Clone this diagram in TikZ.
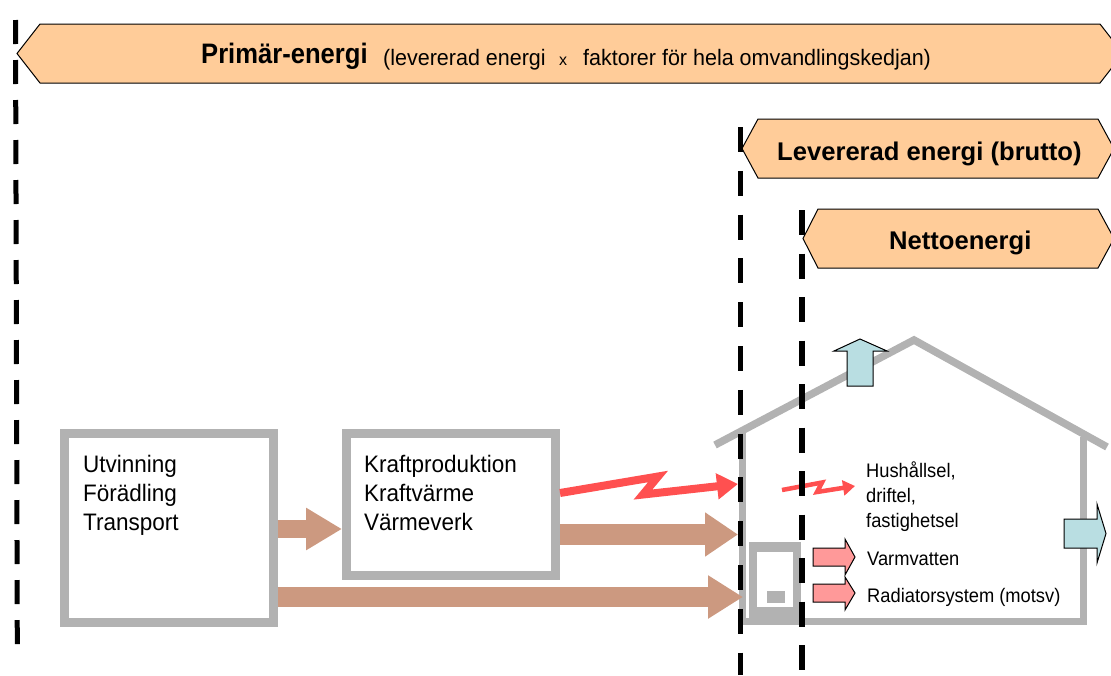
\documentclass[tikz,border=0pt]{standalone}
\usepackage{fontspec}
\setmainfont{Liberation Sans}
\usetikzlibrary{arrows.meta}

\definecolor{peach}{HTML}{FFCC99}
\definecolor{wallgray}{HTML}{B2B2B2}
\definecolor{flowbrown}{RGB}{204,153,128}
\definecolor{elred}{HTML}{FF5050}
\definecolor{hotpink}{HTML}{FF9999}
\definecolor{lossblue}{RGB}{185,222,226}

% slightly taller lettering
\newcommand\talltext[2][1.06]{\scalebox{1}[#1]{#2}}

\begin{document}
\begin{tikzpicture}[x=1pt,y=-1pt,
  banner/.style={draw=black,line width=1pt,fill=peach,line join=miter},
  headtext/.style={font=\fontsize{25.6}{30}\selectfont\bfseries,anchor=base west,inner sep=0},
  subtext/.style={font=\fontsize{21.5}{26}\selectfont,anchor=base west,inner sep=0},
  graybox/.style={draw=wallgray,line width=9pt,fill=white,inner sep=0},
  boxtext/.style={font=\fontsize{22.5}{27}\selectfont,anchor=base west,inner sep=0},
  smalltext/.style={font=\fontsize{18.3}{22}\selectfont,anchor=base west,inner sep=0},
  housewall/.style={draw=wallgray,line width=7.5pt,line join=miter},
  flow/.style={draw=flowbrown,line width=#1},
  bolt/.style={draw=elred,line width=#1,line join=miter},
  blockarrow/.style={draw=black,line width=1pt,fill=#1,line join=miter},
  divider/.style={draw=black,line width=5.5pt}
]
\useasboundingbox (0,0) rectangle (1111,675);
\clip (0,0) rectangle (1111,675);

% energy level banners
\draw[banner] (17,53.5) -- (40,24) -- (1100,24) -- (1123,53.5) -- (1100,83) -- (40,83) -- cycle;
\draw[banner] (742,148.5) -- (758,119) -- (1098,119) -- (1114,148.5) -- (1098,178) -- (758,178) -- cycle;
\draw[banner] (803,238.5) -- (818,209) -- (1098,209) -- (1114,238.5) -- (1098,268) -- (818,268) -- cycle;

\node[headtext] (prim) at (201,63) {\talltext[1.1]{Primär-energi}};
\node[subtext] (primA) at (383,65.5) {\talltext[1.04]{(levererad energi}};
\node[font=\fontsize{16}{18}\selectfont,anchor=base west,inner sep=0] (primX) at (559,65.5) {x};
\node[subtext] (primB) at (583,65.5) {\talltext[1.04]{faktorer för hela omvandlingskedjan)}};
\node[headtext] (brutto) at (777,160) {Levererad energi (brutto)};
\node[headtext] (netto) at (889,249) {Nettoenergi};

% supply chain boxes
\node[graybox,minimum width=208.5pt,minimum height=189pt] (box1) at (168.75,528) {};
\node[graybox,minimum width=209pt,minimum height=142pt] (box2) at (451,504.5) {};

\node[boxtext] (u1) at (83,472) {\talltext{Utvinning}};
\node[boxtext] (u2) at (83,501) {\talltext{Förädling}};
\node[boxtext] (u3) at (83,530) {\talltext{Transport}};
\node[boxtext] (k1) at (364,472) {\talltext{Kraftproduktion}};
\node[boxtext] (k2) at (364,501) {\talltext{Kraftvärme}};
\node[boxtext] (k3) at (364,530) {\talltext{Värmeverk}};

% house
\draw[housewall] (715,445) -- (914,340) -- (1107,447);
\draw[housewall] (742.5,433) -- (742.5,621.5) -- (1083.5,621.5) -- (1083.5,437);

% boiler
\fill[wallgray] (749,542) rectangle (801,622);
\fill[white] (757,552) rectangle (793,607);
\fill[wallgray] (767,591) rectangle (785,603);

% entry points at the wall
\coordinate (yA) at (0,529);
\coordinate (yB) at (0,534.5);
\coordinate (yC) at (0,597);
\coordinate (yL) at (0,493);
\coordinate (inB) at (738,534.5);
\coordinate (inC) at (743,597);
\coordinate (inL) at (738,484);

% fuel and heat flows
\draw[flow=18pt,-{Triangle[length=36pt,width=40pt]}] (box1.east |- yA) -- (box2.west |- yA);
\draw[flow=21pt,-{Triangle[length=33pt,width=42pt]}] (box2.east |- yB) -- (inB);
\draw[flow=20pt,-{Triangle[length=35pt,width=41pt]}] (box1.east |- yC) -- (inC);

% electricity
\draw[bolt=8pt,-{Triangle[length=21pt,width=25pt]}] (box2.east |- yL) -- (658,476.5) -- (643,494.5) -- (inL);
\coordinate (elS) at (782,490);
\coordinate (elE) at (855,486);
\draw[bolt=4.5pt,-{Triangle[length=12pt,width=15pt]}] (elS) -- (822,482.5) -- (817,492) -- (elE);

% hot water and space heating
\draw[blockarrow=hotpink] (813,548) -- (845,548) -- (845,539) -- (855,557) -- (845,575) -- (845,566) -- (813,566) -- cycle;
\draw[blockarrow=hotpink] (813,584) -- (845,584) -- (845,577) -- (855,593) -- (845,610) -- (845,602) -- (813,602) -- cycle;

% losses
\draw[blockarrow=lossblue] (847,386) -- (847,351) -- (834,351) -- (860,339) -- (887,351) -- (873,351) -- (873,386) -- cycle;
\draw[blockarrow=lossblue] (1064,519) -- (1097,519) -- (1097,504) -- (1106,533.5) -- (1097,563) -- (1097,548) -- (1064,548) -- cycle;

\node[smalltext] (h1) at (866,477) {\talltext[1.07]{Hushållsel,}};
\node[smalltext] (h2) at (866,502) {\talltext[1.07]{driftel,}};
\node[smalltext] (h3) at (866,527) {\talltext[1.07]{fastighetsel}};
\node[smalltext] (vv) at (867,565) {\talltext[1.07]{Varmvatten}};
\node[smalltext] (rad) at (867,602) {\talltext[1.07]{Radiatorsystem (motsv)}};

% system boundaries
\draw[divider,line width=5pt,dash pattern=on 24pt off 16pt] (15.5,20) -- (17.3,645);
\draw[divider,dash pattern=on 25pt off 18.8pt] (740.5,127) -- (740.5,675);
\draw[divider,dash pattern=on 25pt off 18.5pt] (802,210) -- (802,670);
\end{tikzpicture}
\end{document}
